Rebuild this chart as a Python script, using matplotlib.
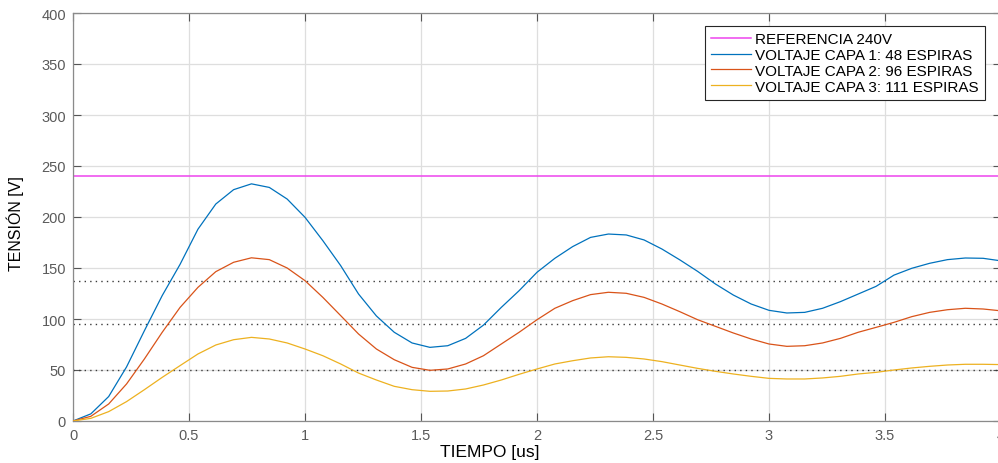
import numpy as np
import matplotlib

matplotlib.use("Agg")
import matplotlib.pyplot as plt

plt.rcParams["font.family"] = ["Liberation Sans", "DejaVu Sans"]

# Muestras de tiempo [us] (paso 1/13 us, 0..4)
tiempo = np.linspace(0, 4, 53)

capa1 = [0, 7, 24, 53, 88.5, 123, 153.6, 188, 212.7, 226.8, 232.5, 229, 217.6,
         199.7, 176.8, 152.3, 124.5, 103, 87, 76.5, 72.2, 73.8, 81, 94, 111.4,
         127.8, 145.8, 159.5, 171, 180, 183.3, 182.4, 177.5, 168.6, 158, 146.7,
         134.3, 123.5, 114.7, 108.5, 105.9, 106.5, 110.5, 117, 124.5, 132,
         143, 149.7, 154.6, 158.2, 159.8, 159.5, 157]
capa2 = [0, 4.6, 16.7, 36.3, 60.8, 87, 111.4, 131, 146.4, 155.6, 160, 158.2,
         150, 137.6, 121.2, 103.3, 85.3, 70.6, 60.1, 52.6, 49.7, 51, 55.9, 64,
         75.5, 87, 99.3, 110.5, 118, 123.9, 126.2, 125.2, 121.2, 114.7, 107.2,
         99.3, 92.8, 86.3, 80.4, 75.5, 73.2, 73.8, 76.5, 81, 87, 91.8, 96.7,
         102.3, 106.5, 109.1, 110.5, 109.8, 108]
capa3 = [0, 2.6, 9.2, 19, 30.7, 42.8, 54.3, 65.7, 74.5, 79.7, 82, 80.4, 76.5,
         70.6, 64, 55.9, 47, 40.2, 34, 30.7, 29.1, 29.4, 31.4, 35.3, 40.2, 45.8,
         51, 55.9, 59.1, 61.8, 63, 62.4, 60.8, 58.2, 54.9, 51.6, 48.7, 46.1,
         43.8, 41.8, 41.2, 41.2, 42.2, 43.8, 46.1, 47.7, 50, 52, 53.6, 54.9,
         55.6, 55.6, 55.3]

referencia = 240
niveles = [137.5, 95, 50]   # líneas punteadas horizontales

etiquetas = ["REFERENCIA 240V", "VOLTAJE CAPA 1: 48 ESPIRAS",
             "VOLTAJE CAPA 2: 96 ESPIRAS", "VOLTAJE CAPA 3: 111 ESPIRAS"]

W, H = 998, 464
fig = plt.figure(figsize=(W / 100, H / 100), dpi=100)
ax = fig.add_axes([73 / W, 42 / H, 928 / W, 408 / H])
ax.set_axisbelow(True)

ax.grid(True, color="#dedede", lw=0.9)
for n in niveles:
    ax.axhline(n, color="#3a3a3a", lw=1.0, ls=(0, (1, 3)), zorder=2)

ax.axhline(referencia, color="#ee44ee", lw=1.1, label=etiquetas[0], zorder=2)
ax.plot(tiempo, capa1, color="#0072BD", lw=0.9, label=etiquetas[1], zorder=3)
ax.plot(tiempo, capa2, color="#D95319", lw=0.9, label=etiquetas[2], zorder=3)
ax.plot(tiempo, capa3, color="#EDB120", lw=0.9, label=etiquetas[3], zorder=3)

ax.set_xlim(0, 4)
ax.set_ylim(0, 400)
ax.set_xticks(np.arange(0, 4.01, 0.5))
ax.set_xticklabels(["0", "0.5", "1", "1.5", "2", "2.5", "3", "3.5", "4"])
ax.set_yticks(np.arange(0, 401, 50))

for s in ax.spines.values():
    s.set_color("#8a8a8a")
    s.set_linewidth(0.9)
ax.tick_params(direction="in", length=6, width=0.8, color="#555555",
               labelcolor="#5a5a5a", labelsize=10.5, top=True, right=True,
               pad=5)

ax.set_xlabel("TIEMPO [us]", fontsize=12.5)
ax.xaxis.set_label_coords((490 - 73) / 928, -(445 - 422) / 408)
ax.set_ylabel("TENSIÓN [V]", fontsize=11.5)
ax.yaxis.set_label_coords(-(73 - 24) / 928, (422 - 224) / 408)

leg = ax.legend(loc="upper right", bbox_to_anchor=(985 / W, 1 - 27 / H),
                bbox_transform=fig.transFigure, borderaxespad=0,
                fontsize=11, fancybox=False, framealpha=1,
                handlelength=2.6, handletextpad=0.3, labelspacing=0.12,
                borderpad=0.4)
leg.get_frame().set_edgecolor("#262626")
leg.get_frame().set_linewidth(0.8)

fig.savefig("out.png", dpi=100, facecolor="white")
